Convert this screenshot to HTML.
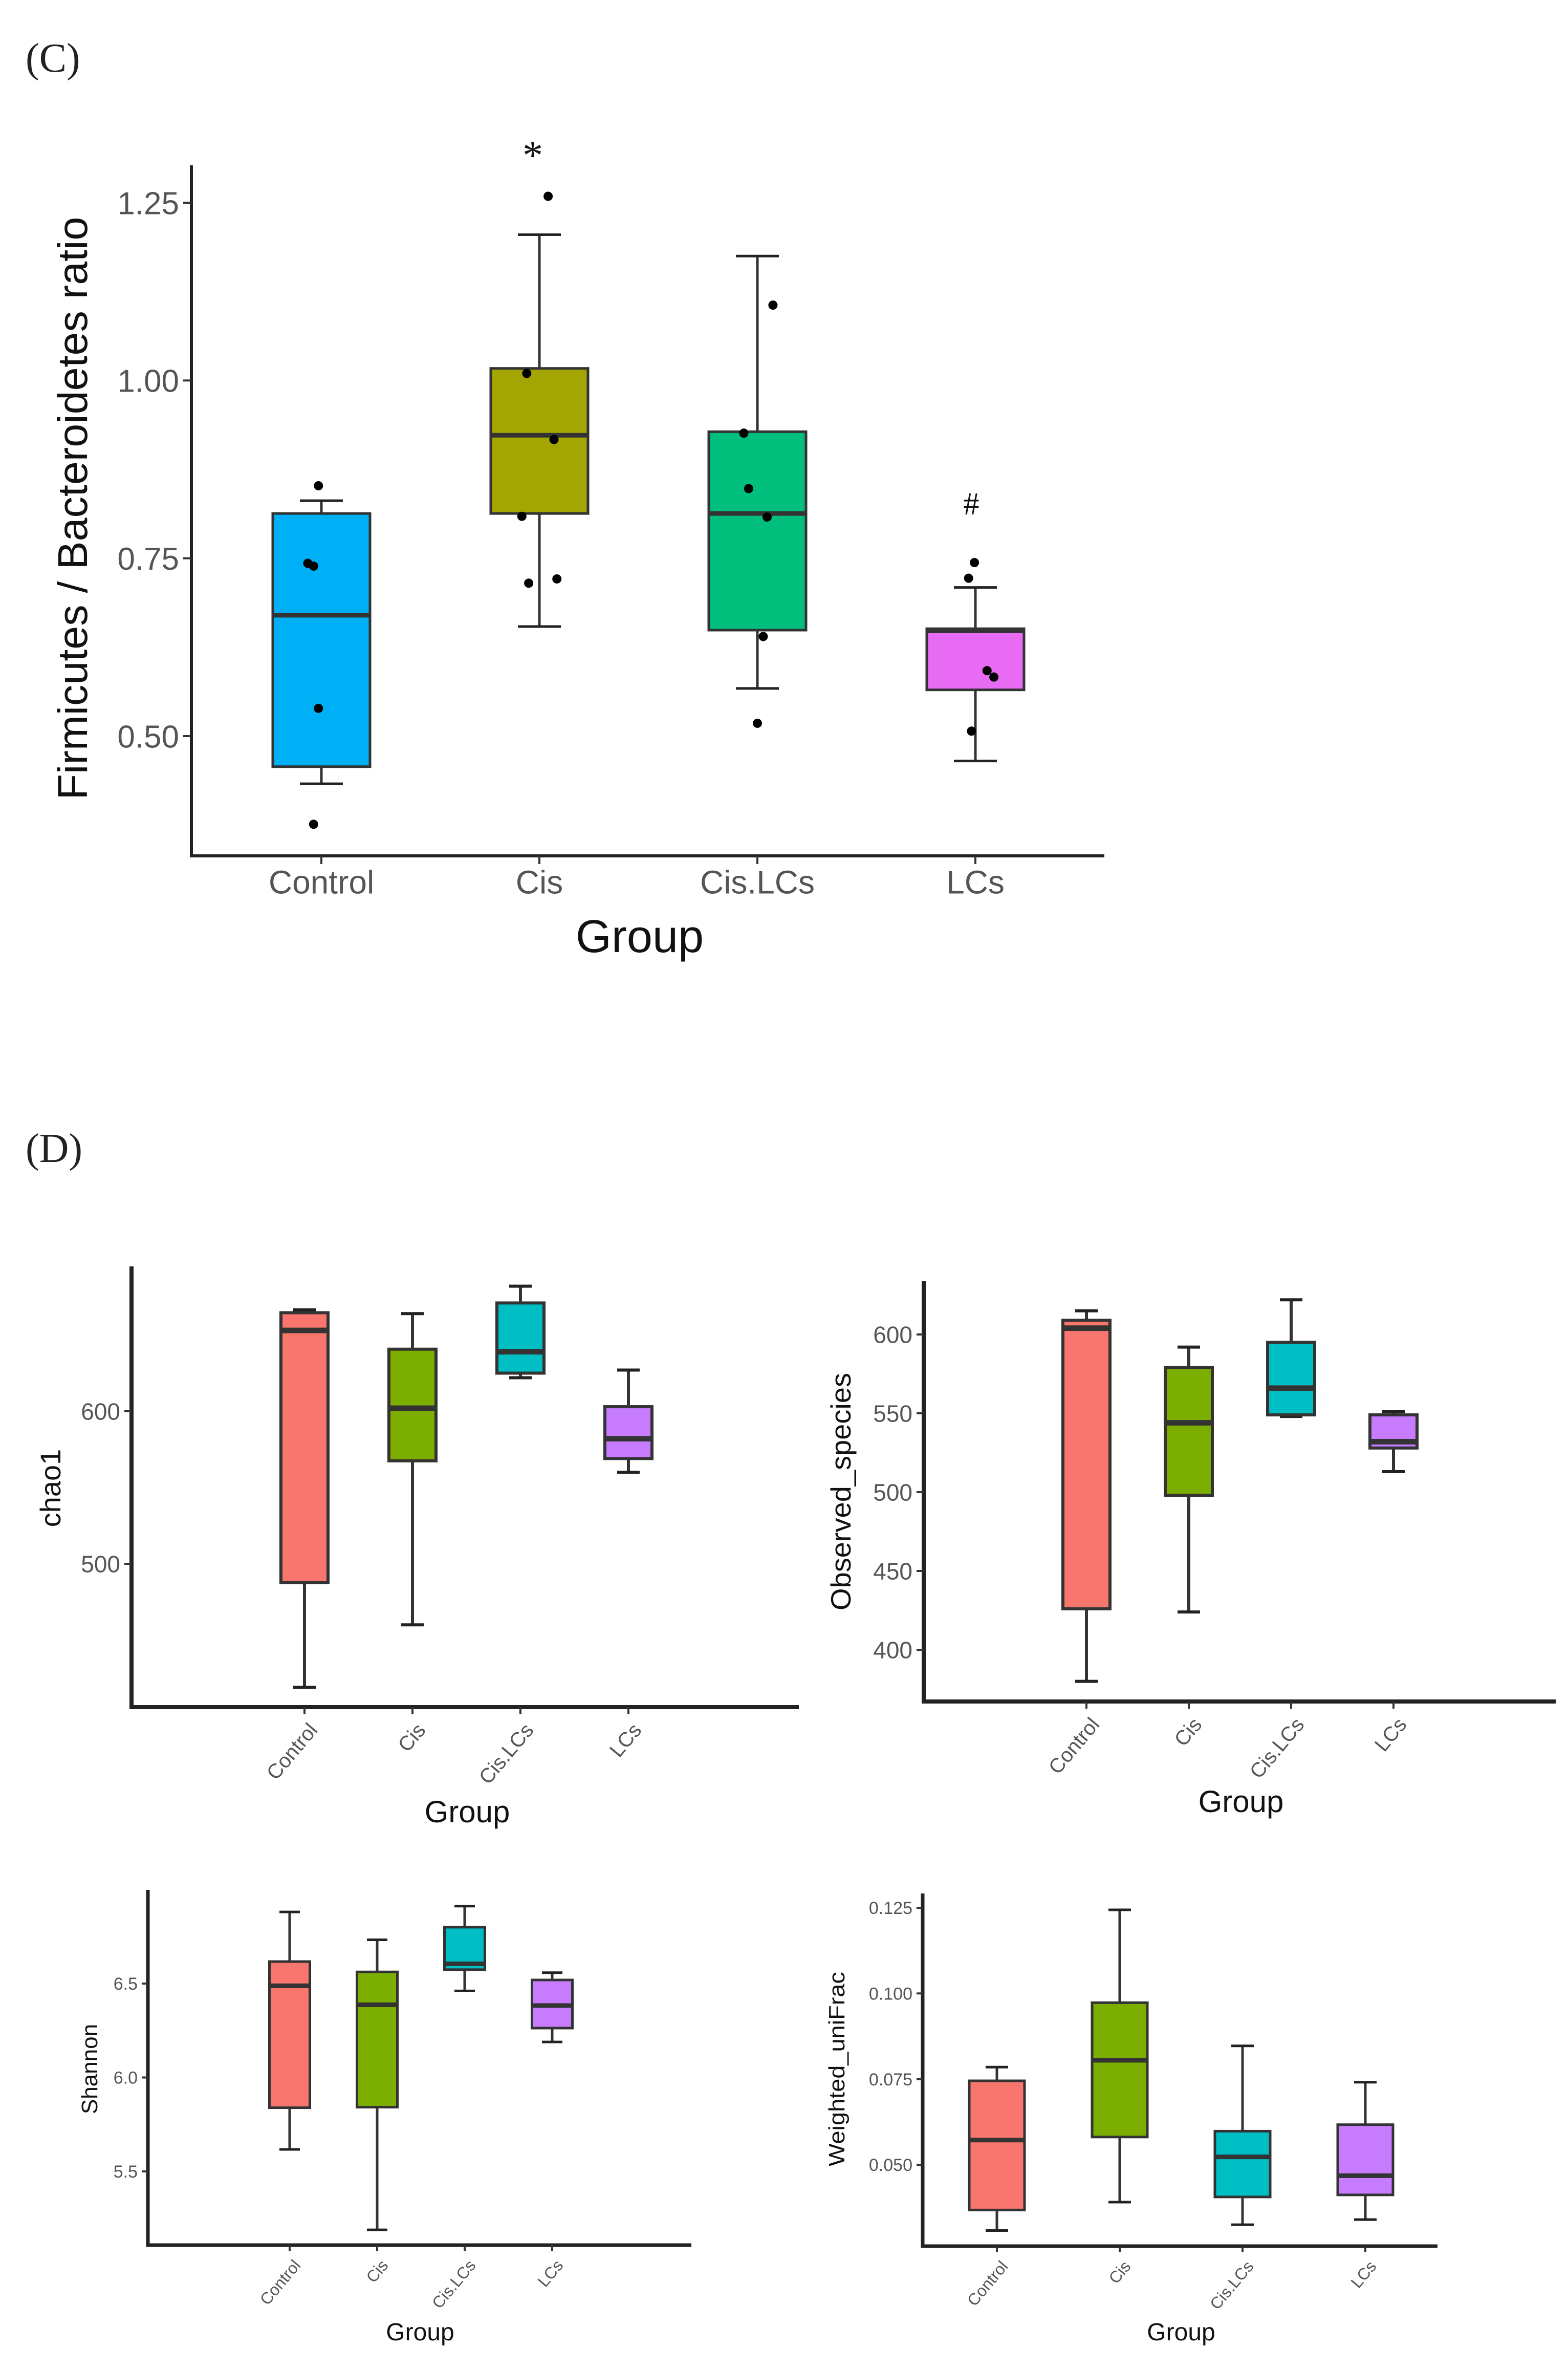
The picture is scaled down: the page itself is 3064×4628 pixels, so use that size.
<!DOCTYPE html>
<html><head><meta charset="utf-8"><style>html,body{margin:0;padding:0;background:#fff}svg{display:block}text{font-family:"Liberation Sans",sans-serif}</style></head>
<body>
<svg id="fig" xmlns="http://www.w3.org/2000/svg" width="3064" height="4628" viewBox="0 0 3064 4628">
<text x="50" y="140" style="font-family:'Liberation Serif',serif" font-size="80" fill="#222">(C)</text>
<text x="50" y="2270" style="font-family:'Liberation Serif',serif" font-size="80" fill="#222">(D)</text>
<g id="root"></g>
</svg>
<script>
const groups = ["Control","Cis","Cis.LCs","LCs"];
// Panel C: Firmicutes/Bacteroidetes ratio [whiskerLow, Q1, median, Q3, whiskerHigh]
const fbStats = [[0.433,0.457,0.670,0.813,0.831],[0.654,0.813,0.923,1.017,1.205],[0.567,0.649,0.813,0.928,1.175],[0.465,0.565,0.648,0.651,0.709]];
const fbPoints = [[0.852,0.743,0.739,0.539,0.376],[1.259,1.010,0.917,0.809,0.715,0.721],[1.106,0.926,0.848,0.808,0.640,0.518],[0.744,0.722,0.592,0.583,0.507]];
const fbJitter = [[-0.03,-0.14,-0.08,-0.03,-0.08],[0.09,-0.13,0.15,-0.18,-0.11,0.18],[0.16,-0.14,-0.09,0.10,0.06,0.0],[-0.01,-0.07,0.12,0.19,-0.04]];
const fbTicks = [0.50,0.75,1.00,1.25];
const fbTickLabels = ["0.50","0.75","1.00","1.25"];
const chaoStats = [[419,487.6,653,664.6,666.5],[460,567.5,602,640.7,664],[622,625,639,671,682],[560,569,582,603,627]];
const chaoTicks = [500,600];
const obsStats = [[380,426,604,609,615],[424,498,544,579,592],[548,549,566,595,622],[513,528,532,549,551]];
const obsTicks = [400,450,500,550,600];
const shanStats = [[5.617,5.839,6.488,6.617,6.881],[5.189,5.842,6.387,6.562,6.733],[6.461,6.574,6.605,6.800,6.912],[6.189,6.263,6.383,6.519,6.558]];
const shanTicks = [5.5,6.0,6.5];
const shanTickLabels = ["5.5","6.0","6.5"];
const wuStats = [[0.0308,0.0368,0.0572,0.0745,0.0785],[0.0391,0.0581,0.0805,0.0973,0.1244],[0.0325,0.0406,0.0523,0.0598,0.0847],[0.0340,0.0412,0.0468,0.0617,0.0741]];
const wuTicks = [0.050,0.075,0.100,0.125];
const wuTickLabels = ["0.050","0.075","0.100","0.125"];

const NS="http://www.w3.org/2000/svg";
const root=document.getElementById('root');
function mk(tag,attrs,parent){const e=document.createElementNS(NS,tag);for(const k in attrs)e.setAttribute(k,attrs[k]);(parent||root).appendChild(e);return e;}

function panel(p){
  const g=mk('g',{});
  
  
  const ys=v=>p.y1+(v-p.v1)*(p.y2-p.y1)/(p.v2-p.v1);
  const xs=i=>p.cx0+i*p.dx;
  const ax=mk('path',{d:`M${p.ax},${p.top} V${p.base} H${p.right}`,fill:'none',stroke:'#222','stroke-width':p.aw},g);
  
  
  p.ticks.forEach((t,i)=>{
    const y=ys(t);
    mk('line',{x1:p.ax-p.tl,x2:p.ax,y1:y,y2:y,stroke:'#333','stroke-width':4},g);
    const tx=mk('text',{x:p.ax-p.tl-8,y:y+p.tf*0.36,'text-anchor':'end','font-size':p.tf,fill:'#555'},g);
    tx.textContent=p.tickLabels?p.tickLabels[i]:String(t);
    
    
  });
  p.stats.forEach((s,i)=>{
    const x=xs(i),w=p.bw;
    const bg=mk('g',{},g);
    
    
    mk('line',{x1:x,x2:x,y1:ys(s[0]),y2:ys(s[1]),stroke:'#333','stroke-width':p.lw},bg);
    mk('line',{x1:x,x2:x,y1:ys(s[3]),y2:ys(s[4]),stroke:'#333','stroke-width':p.lw},bg);
    mk('line',{x1:x-p.cap,x2:x+p.cap,y1:ys(s[0]),y2:ys(s[0]),stroke:'#222','stroke-width':p.lw},bg);
    mk('line',{x1:x-p.cap,x2:x+p.cap,y1:ys(s[4]),y2:ys(s[4]),stroke:'#222','stroke-width':p.lw},bg);
    mk('rect',{x:x-w/2,y:ys(s[3]),width:w,height:ys(s[1])-ys(s[3]),fill:p.colors[i],stroke:'#333','stroke-width':p.lw},bg);
    mk('line',{x1:x-w/2,x2:x+w/2,y1:ys(s[2]),y2:ys(s[2]),stroke:'#333','stroke-width':p.lw*1.8},bg);
    mk('line',{x1:x,x2:x,y1:p.base,y2:p.base+p.tl,stroke:'#333','stroke-width':4},g);
    let lab;
    if(p.rot){
      const lx=x+6, ly=p.base+p.tl+14;
      lab=mk('text',{x:lx,y:ly,'text-anchor':'end','font-size':p.xf,fill:'#555',transform:`rotate(-50 ${lx} ${ly})`},g);
      lab.setAttribute('dy',p.xf*0.7);
    } else {
      lab=mk('text',{x:x,y:p.base+p.xf*1.15,'text-anchor':'middle','font-size':p.xf,fill:'#555'},g);
    }
    lab.textContent=groups[i];
    
    
    if(p.points){
      p.points[i].forEach((v,j)=>{
        const c=mk('circle',{cx:x+p.jit[i][j]*p.bw,cy:ys(v),r:9,fill:'#000'},g);
        
        
      });
    }
  });
  const xt=mk('text',{x:p.gx,y:p.gy,'text-anchor':'middle','font-size':p.gf,fill:'#111'},g);
  xt.textContent='Group';
  
  
  const yt=mk('text',{x:p.yx,y:p.yy,'text-anchor':'middle','font-size':p.yf,fill:'#111',transform:`rotate(-90 ${p.yx} ${p.yy})`},g);
  if(p.yLen){yt.setAttribute('textLength',p.yLen);yt.setAttribute('lengthAdjust','spacingAndGlyphs');}
  yt.textContent=p.ytitle;
  
  
  return ys;
}
const colC=['#00B0F6','#A3A500','#00BF7D','#E76BF3'];
const colD=['#F8766D','#7CAE00','#00BFC4','#C77CFF'];
panel({name:'fb-ratio-chart',ax:374,top:323,base:1672,right:2158,aw:6,v1:0.5,y1:1438,v2:1.25,y2:396,cx0:628,dx:426,bw:190,cap:42,lw:5,tl:16,tf:62,xf:64,rot:false,
  ticks:fbTicks,tickLabels:fbTickLabels,stats:fbStats,points:fbPoints,jit:fbJitter,colors:colC,gx:1250,gy:1860,gf:90,ytitle:'Firmicutes / Bacteroidetes ratio',yx:170,yy:993,yf:82,yLen:1139});
const star=mk('text',{x:1041,y:330,'text-anchor':'middle','font-size':80,style:"font-family:'Liberation Serif',serif",fill:'#111'});star.textContent='*';


const hash=mk('text',{x:1898,y:1005,'text-anchor':'middle','font-size':62,style:"font-family:'Liberation Serif',serif",fill:'#111'});hash.textContent='#';



panel({name:'chao1-chart',ax:257,top:2474,base:3335,right:1561,aw:8,v1:500,y1:3055,v2:600,y2:2757,cx0:595,dx:211,bw:92,cap:22,lw:6,tl:14,tf:46,xf:40,rot:true,
  ticks:chaoTicks,stats:chaoStats,colors:colD,gx:913,gy:3560,gf:60,ytitle:'chao1',yx:118,yy:2907,yf:56});
panel({name:'observed-species-chart',ax:1805,top:2503,base:3324,right:3040,aw:8,v1:400,y1:3223,v2:600,y2:2607,cx0:2123,dx:200,bw:92,cap:22,lw:6,tl:14,tf:46,xf:40,rot:true,
  ticks:obsTicks,stats:obsStats,colors:colD,gx:2425,gy:3540,gf:60,ytitle:'Observed_species',yx:1662,yy:2914,yf:55,yLen:464});
panel({name:'shannon-chart',ax:289,top:3692,base:4386,right:1351,aw:7,v1:5.5,y1:4242,v2:6.5,y2:3875,cx0:566,dx:171,bw:79,cap:20,lw:5,tl:12,tf:34,xf:32,rot:true,
  ticks:shanTicks,tickLabels:shanTickLabels,stats:shanStats,colors:colD,gx:821,gy:4572,gf:48,ytitle:'Shannon',yx:190,yy:4042,yf:44});
panel({name:'weighted-unifrac-chart',ax:1803,top:3699,base:4388,right:2809,aw:7,v1:0.05,y1:4229,v2:0.125,y2:3727,cx0:1948,dx:240,bw:108,cap:22,lw:5,tl:12,tf:34,xf:32,rot:true,
  ticks:wuTicks,tickLabels:wuTickLabels,stats:wuStats,colors:colD,gx:2308,gy:4572,gf:48,ytitle:'Weighted_uniFrac',yx:1650,yy:4042,yf:44,yLen:380});
</script>
</body></html>
